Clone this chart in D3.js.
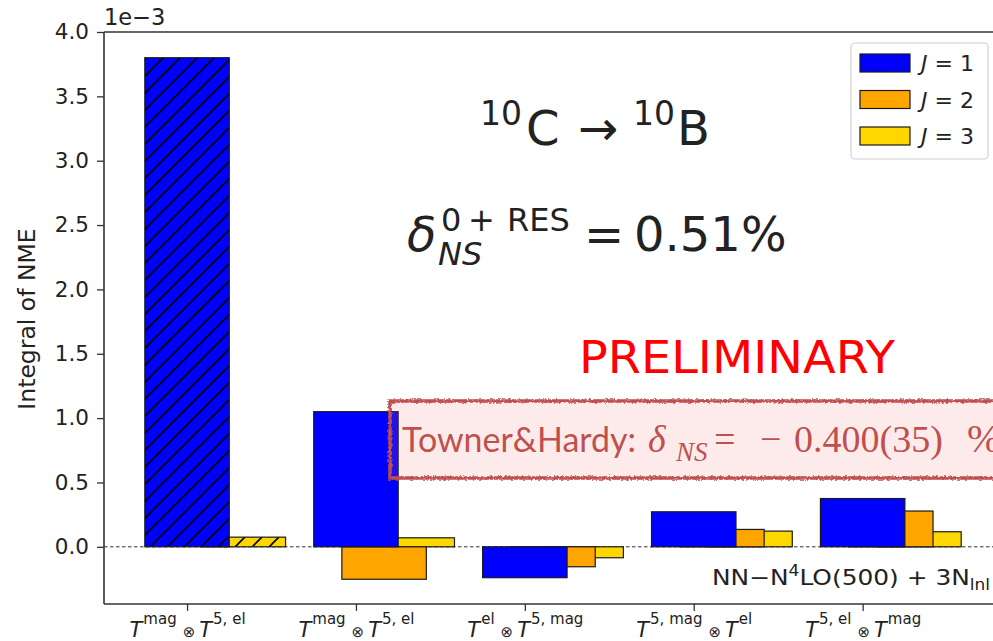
<!DOCTYPE html>
<html>
<head>
<meta charset="utf-8">
<script src="https://cdn.jsdelivr.net/npm/d3@7"></script>
<style>
  html, body { margin: 0; padding: 0; background: #fff; }
  svg { display: block; }
  text { font-family: "DejaVu Sans", sans-serif; fill: #222; }
</style>
</head>
<body>
<svg id="chart" width="993" height="641"></svg>
<script>
// Operator products (superscripts of the two T factors) per category
const categories = [
  ["mag", "5, el"],
  ["mag", "5, el"],
  ["el", "5, mag"],
  ["5, mag", "el"],
  ["5, el", "mag"]
];
// Integral of NME, units of 1e-3
const valuesJ1 = [3.80, 1.05, -0.24, 0.272, 0.375];
const valuesJ2 = [0.0, -0.252, -0.155, 0.135, 0.278];
const valuesJ3 = [0.075, 0.07, -0.085, 0.122, 0.117];
const hatchedCategory = [true, false, false, false, false];
const seriesNames = ["1", "2", "3"];
const seriesColors = ["#0000ff", "#ffa500", "#ffd700"];
const yTicks = [0.0, 0.5, 1.0, 1.5, 2.0, 2.5, 3.0, 3.5, 4.0];

const svg = d3.select("#chart");
const mLeft = 104, mTop = 32, mBottom = 604, mRight = 1002;

const x = d3.scaleLinear().domain([-0.4917, 4.825]).range([mLeft, mRight]);
const y = d3.scaleLinear().domain([-0.4444, 4.0]).range([mBottom, mTop]);

const defs = svg.append("defs");
// diagonal hatch patterns
function hatch(id, color) {
  const p = defs.append("pattern").attr("id", id)
    .attr("patternUnits", "userSpaceOnUse").attr("width", 17).attr("height", 17);
  p.append("rect").attr("width", 17).attr("height", 17).attr("fill", color);
  p.append("path").attr("d", "M0,17 L17,0 M-2,2 L2,-2 M15,19 L19,15")
    .attr("stroke", "#000").attr("stroke-width", 1.6);
}
hatch("hatchJ1", seriesColors[0]);
hatch("hatchJ2", seriesColors[1]);
hatch("hatchJ3", seriesColors[2]);

// rough hand-drawn border
const rough = defs.append("filter").attr("id", "rough")
  .attr("x", "-5%").attr("y", "-20%").attr("width", "110%").attr("height", "140%");
rough.append("feTurbulence").attr("type", "fractalNoise").attr("baseFrequency", 0.45)
  .attr("numOctaves", 2).attr("seed", 3).attr("result", "noise");
rough.append("feDisplacementMap").attr("in", "SourceGraphic").attr("in2", "noise")
  .attr("scale", 4).attr("xChannelSelector", "R").attr("yChannelSelector", "G");

const clip = defs.append("clipPath").attr("id", "plotClip");
clip.append("rect").attr("x", mLeft).attr("y", mTop).attr("width", mRight - mLeft).attr("height", mBottom - mTop);

const plot = svg.append("g").attr("clip-path", "url(#plotClip)");

// zero reference line
plot.append("line")
  .attr("x1", mLeft).attr("x2", mRight)
  .attr("y1", y(0)).attr("y2", y(0))
  .attr("stroke", "#333").attr("stroke-width", 1).attr("stroke-dasharray", "3.5,2.5");

const series = [valuesJ1, valuesJ2, valuesJ3];
const offsets = [0, 1 / 6, 1 / 3];
const barWidth = 0.5;
// J=3 first, J=1 last so that J=1 lies on top
[2, 1, 0].forEach(s => {
  plot.append("g").selectAll("rect")
    .data(series[s].map((v, i) => ({ v, i })))
    .join("rect")
    .attr("x", d => x(d.i + offsets[s] - barWidth / 2))
    .attr("width", d => x(d.i + offsets[s] + barWidth / 2) - x(d.i + offsets[s] - barWidth / 2))
    .attr("y", d => y(Math.max(0, d.v)))
    .attr("height", d => Math.abs(y(d.v) - y(0)))
    .attr("fill", d => hatchedCategory[d.i] ? `url(#hatchJ${s + 1})` : seriesColors[s])
    .attr("stroke", "#1a1a1a").attr("stroke-width", 1.2);
});

// axes
const yAxis = svg.append("g").attr("transform", `translate(${mLeft},0)`)
  .call(d3.axisLeft(y).tickValues(yTicks).tickFormat(d3.format(".1f")).tickSize(7).tickPadding(8));
const xAxis = svg.append("g").attr("transform", `translate(0,${mBottom})`)
  .call(d3.axisBottom(x).tickValues(d3.range(categories.length)).tickFormat(() => "").tickSize(7).tickPadding(4));
[yAxis, xAxis].forEach(a => {
  a.select(".domain").remove();
  a.selectAll(".tick line").attr("stroke", "#333").attr("stroke-width", 1.3);
  a.selectAll(".tick text").style("font-family", "DejaVu Sans").style("font-size", "21.5px").attr("fill", "#222");
});

// spines
svg.append("line").attr("x1", mLeft).attr("x2", mLeft).attr("y1", mTop).attr("y2", mBottom)
  .attr("stroke", "#333").attr("stroke-width", 1.6);
svg.append("line").attr("x1", mLeft).attr("x2", mRight).attr("y1", mBottom).attr("y2", mBottom)
  .attr("stroke", "#333").attr("stroke-width", 1.6);
svg.append("line").attr("x1", mLeft).attr("x2", mRight).attr("y1", mTop).attr("y2", mTop)
  .attr("stroke", "#333").attr("stroke-width", 1.6);

// category labels: T^a ⊗ T^b
xAxis.selectAll(".tick text").each(function (d) {
  const t = d3.select(this).text(null)
    .attr("y", 0).attr("dy", 0)
    .attr("transform", "translate(0,33)")
    .attr("text-anchor", "middle");
  const [a, b] = categories[d];
  t.append("tspan").style("font-style", "italic").style("font-size", "21px").text("T");
  t.append("tspan").style("font-size", "15px").attr("dy", -13).attr("dx", 1).text(a);
  t.append("tspan").style("font-size", "15px").attr("dy", 13).attr("dx", 6).text("\u2297");
  t.append("tspan").style("font-style", "italic").style("font-size", "21px").attr("dx", 4).text("T");
  t.append("tspan").style("font-size", "15px").attr("dy", -13).attr("dx", 1).text(b);
});

// axis label and offset
svg.append("text")
  .attr("transform", `translate(35,319) rotate(-90)`)
  .attr("text-anchor", "middle").style("font-size", "23.5px")
  .text("Integral of NME");
svg.append("text").attr("x", 104).attr("y", 25).style("font-size", "22.5px").text("1e\u22123");

// reaction
const reac = svg.append("text").attr("y", 145).style("font-size", "48px").attr("fill", "#111");
reac.append("tspan").attr("x", 480).attr("dy", -20).style("font-size", "33px").text("10");
reac.append("tspan").attr("x", 526).attr("dy", 20).text("C");
reac.append("tspan").attr("x", 578).text("\u2192");
reac.append("tspan").attr("x", 633).attr("dy", -20).style("font-size", "33px").text("10");
reac.append("tspan").attr("x", 677).attr("dy", 20).text("B");

// correction: superscript and subscript parts as separate texts
const corrBase = 251;
const corr = svg.append("text").attr("y", corrBase).style("font-size", "48px").attr("fill", "#111");
corr.append("tspan").attr("x", 407).style("font-style", "italic").text("\u03b4");
corr.append("tspan").attr("x", 584).text("=");
corr.append("tspan").attr("x", 634).text("0.51%");
const corrSup = svg.append("text").attr("y", corrBase - 20).style("font-size", "32px").attr("fill", "#111");
corrSup.append("tspan").attr("x", 441).text("0");
corrSup.append("tspan").attr("x", 468).text("+");
corrSup.append("tspan").attr("x", 507).text("RES");
svg.append("text").attr("x", 438).attr("y", corrBase + 14).style("font-size", "32px")
  .style("font-style", "italic").attr("fill", "#111").text("NS");

// legend
const lg = svg.append("g");
lg.append("rect").attr("x", 851).attr("y", 43).attr("width", 137).attr("height", 116)
  .attr("rx", 4).attr("fill", "#fff").attr("fill-opacity", 0.8).attr("stroke", "#d0d0d0").attr("stroke-width", 1.2);
seriesNames.forEach((n, i) => {
  const yy = 54 + i * 36.5;
  lg.append("rect").attr("x", 860).attr("y", yy).attr("width", 50).attr("height", 18)
    .attr("fill", seriesColors[i]).attr("stroke", "#1a1a1a").attr("stroke-width", 1.2);
  const t = lg.append("text").attr("x", 921).attr("y", yy + 17).style("font-size", "22px");
  t.append("tspan").style("font-style", "italic").text("J");
  t.append("tspan").text(" = " + n);
});

// preliminary mark
svg.append("text").attr("x", 579).attr("y", 373).attr("textLength", 316).attr("lengthAdjust", "spacingAndGlyphs")
  .style("font-size", "45px").style("fill", "#ff0000").text("PRELIMINARY");

// interaction note
svg.append("text").attr("x", 712).attr("y", 585).style("font-size", "22px")
  .attr("textLength", 278).attr("lengthAdjust", "spacingAndGlyphs")
  .call(t => {
    t.append("tspan").text("NN\u2212N");
    t.append("tspan").attr("dy", -9).style("font-size", "15px").text("4");
    t.append("tspan").attr("dy", 9).text("LO(500) + 3N");
    t.append("tspan").attr("dy", 5).style("font-size", "15px").text("lnl");
  });

// comparison value box
const box = svg.append("g");
box.append("rect").attr("x", 390).attr("y", 401).attr("width", 640).attr("height", 77)
  .attr("fill", "rgb(242,120,120)").attr("fill-opacity", 0.15);
box.append("rect").attr("x", 390).attr("y", 401).attr("width", 640).attr("height", 77)
  .attr("fill", "none").attr("stroke", "#c0504d").attr("stroke-width", 3.5).attr("filter", "url(#rough)");
const th = box.append("text").attr("y", 452).style("fill", "#c0504d");
th.append("tspan").attr("x", 402).style("font-family", "Lato, sans-serif").style("font-size", "35px")
  .attr("textLength", 234).attr("lengthAdjust", "spacingAndGlyphs").text("Towner&Hardy:");
th.append("tspan").attr("x", 648).style("font-family", "Liberation Serif, serif").style("font-style", "italic")
  .style("font-size", "38px").text("\u03b4");
th.append("tspan").attr("x", 676).attr("dy", 9).style("font-family", "Liberation Serif, serif").style("font-style", "italic")
  .style("font-size", "27px").text("NS");
th.append("tspan").attr("x", 714).attr("dy", -9).style("font-family", "Liberation Serif, serif")
  .style("font-size", "38px").text("=");
th.append("tspan").attr("x", 760).style("font-family", "Liberation Serif, serif")
  .style("font-size", "38px").text("\u2212");
th.append("tspan").attr("x", 794).style("font-family", "Liberation Serif, serif")
  .style("font-size", "38px").text("0.400(35)");
th.append("tspan").attr("x", 967).style("font-family", "Liberation Serif, serif")
  .style("font-size", "40px").text("%");
</script>
</body>
</html>
